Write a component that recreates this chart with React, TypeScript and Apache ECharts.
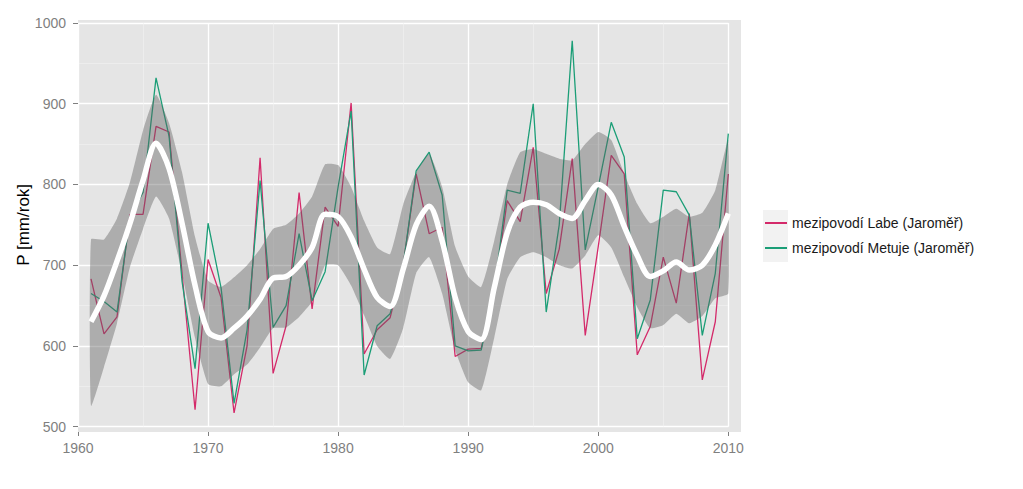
import React, { useEffect, useRef } from "react";
import * as echarts from "echarts";

const years: number[] = [
  1961, 1962, 1963, 1964, 1965, 1966, 1967, 1968, 1969, 1970,
  1971, 1972, 1973, 1974, 1975, 1976, 1977, 1978, 1979, 1980,
  1981, 1982, 1983, 1984, 1985, 1986, 1987, 1988, 1989, 1990,
  1991, 1992, 1993, 1994, 1995, 1996, 1997, 1998, 1999, 2000,
  2001, 2002, 2003, 2004, 2005, 2006, 2007, 2008, 2009, 2010,
];

const labe: number[] = [
  683, 615, 636, 763, 763, 872, 865, 690, 521, 707,
  660, 517, 600, 833, 566, 625, 790, 646, 772, 748,
  901, 590, 620, 635, 700, 813, 739, 747, 587, 596,
  597, 665, 780, 754, 846, 665, 720, 832, 613, 723,
  836, 813, 589, 624, 710, 653, 764, 558, 630, 813,
];

const metuje: number[] = [
  665, 655, 642, 760, 790, 932, 860, 680, 572, 752,
  672, 529, 620, 805, 623, 650, 739, 656, 692, 797,
  891, 564, 625, 640, 700, 817, 840, 787, 600, 594,
  595, 668, 793, 789, 900, 642, 750, 978, 719, 797,
  877, 834, 609, 657, 793, 791, 762, 613, 690, 863,
];

const smoothFit: number[] = [
  630, 662, 705, 752, 805, 851, 820, 752, 675, 618,
  610, 622, 637, 658, 684, 686, 700, 722, 763, 760,
  735, 695, 660, 649, 695, 750, 773, 730, 660, 618,
  608, 672, 740, 772, 778, 775, 764, 758, 780, 800,
  787, 748, 712, 686, 693, 704, 694, 700, 725, 764,
];

const bandUpper: number[] = [
  732, 732, 758, 803, 867, 911, 876, 815, 735, 681,
  673, 685, 700, 720, 745, 750, 764, 785, 825, 824,
  797, 755, 722, 714, 775, 815, 838, 797, 723, 686,
  673, 730, 800, 840, 844, 838, 832, 830, 850, 865,
  855, 813, 776, 752, 760, 770, 760, 765, 793, 855,
];

const bandLower: number[] = [
  526, 574, 628, 698, 745, 785, 758, 690, 610, 553,
  550, 565, 577, 598, 622, 623, 636, 655, 700, 700,
  675, 638, 600, 584, 622, 690, 710, 665, 595, 555,
  545, 610, 683, 710, 716, 710, 700, 696, 712, 737,
  722, 685, 648, 622, 626, 640, 628, 637, 659, 665,
];

const xTicks = { min: 1960, max: 2010, step: 10 };
const yTicks = { min: 500, max: 1000, step: 100 };

const NAME_LABE = "mezipovodí Labe (Jaroměř)";
const NAME_METUJE = "mezipovodí Metuje (Jaroměř)";
const Y_TITLE = "P [mm/rok]";

const FONT = "'Liberation Sans', Arial, Helvetica, sans-serif";

export default function App() {
  const ref = useRef<HTMLDivElement>(null);

  useEffect(() => {
    if (!ref.current) return;
    const chart = echarts.init(ref.current, undefined, { renderer: "svg" });

    const pairs = (vals: number[]) => years.map((y, i) => [y, vals[i]]);
    const bandData = years.map((y, i) => [y, bandLower[i], bandUpper[i]]);

    const renderBand = (params: any, api: any) => {
      if (params.dataIndexInside !== 0) return null;
      const n = params.dataInsideLength;
      const top: number[][] = [];
      const bottom: number[][] = [];
      for (let i = 0; i < n; i++) {
        const x = api.value(0, i);
        top.push(api.coord([x, api.value(2, i)]));
        bottom.push(api.coord([x, api.value(1, i)]));
      }
      const points = top.concat(bottom.reverse());
      return {
        type: "polygon",
        shape: { points, smooth: 0.15 },
        style: { fill: "rgba(95,95,95,0.42)", stroke: "none" },
        silent: true,
      };
    };

    const option: any = {
      animation: false,
      backgroundColor: "#ffffff",
      textStyle: { fontFamily: FONT },
      graphic: [
        {
          type: "rect",
          z: -10,
          shape: { x: 78, y: 20, width: 663, height: 412 },
          style: { fill: "#E5E5E5" },
          silent: true,
        },
        {
          type: "rect",
          z: -10,
          shape: { x: 763, y: 210, width: 25, height: 52 },
          style: { fill: "#F2F2F2" },
          silent: true,
        },
      ],
      grid: {
        left: 78,
        right: 1023 - 728.3,
        top: 23,
        bottom: 489 - 426.7,
        containLabel: false,
      },
      legend: {
        orient: "vertical",
        left: 765,
        top: 215,
        padding: 0,
        itemWidth: 22,
        itemHeight: 2,
        itemGap: 9,
        icon: "rect",
        data: [NAME_LABE, NAME_METUJE],
        textStyle: {
          fontFamily: FONT,
          fontSize: 14,
          color: "#1a1a1a",
          lineHeight: 16,
        },
      },
      xAxis: {
        type: "value",
        min: xTicks.min,
        max: xTicks.max,
        interval: xTicks.step,
        offset: 5.3,
        axisLine: { show: false },
        axisTick: { show: true, length: 4, lineStyle: { color: "#7F7F7F", width: 1 } },
        axisLabel: {
          color: "#7F7F7F",
          fontSize: 14,
          fontFamily: FONT,
          margin: 9,
          formatter: (v: number) => String(v),
        },
        splitLine: { show: true, lineStyle: { color: "#FFFFFF", width: 1.3 } },
        minorTick: { show: false, splitNumber: 2 },
        minorSplitLine: { show: true, lineStyle: { color: "#F2F2F2", width: 0.6 } },
      },
      yAxis: {
        type: "value",
        min: yTicks.min,
        max: yTicks.max,
        interval: yTicks.step,
        name: Y_TITLE,
        nameLocation: "middle",
        nameGap: 46,
        nameMoveOverlap: false,
        nameTextStyle: { fontFamily: FONT, fontSize: 17, color: "#000000" },
        axisLine: { show: false },
        axisTick: { show: true, length: 5, lineStyle: { color: "#7F7F7F", width: 1 } },
        axisLabel: {
          color: "#7F7F7F",
          fontSize: 14,
          fontFamily: FONT,
          margin: 12,
          formatter: (v: number) => String(v),
        },
        splitLine: { show: true, lineStyle: { color: "#FFFFFF", width: 1.3 } },
        minorTick: { show: false, splitNumber: 2 },
        minorSplitLine: { show: true, lineStyle: { color: "#F2F2F2", width: 0.6 } },
      },
      series: [
        {
          name: NAME_LABE,
          type: "line",
          data: pairs(labe),
          symbol: "none",
          color: "#D42A6A",
          lineStyle: { color: "#D42A6A", width: 1.3 },
          z: 2,
        },
        {
          name: NAME_METUJE,
          type: "line",
          data: pairs(metuje),
          symbol: "none",
          color: "#1B9E77",
          lineStyle: { color: "#1B9E77", width: 1.3 },
          z: 2,
        },
        {
          name: "band",
          type: "custom",
          data: bandData,
          encode: { x: 0, y: [1, 2] },
          renderItem: renderBand,
          clip: true,
          silent: true,
          z: 3,
        },
        {
          name: "smooth",
          type: "line",
          data: pairs(smoothFit),
          symbol: "none",
          smooth: 0.3,
          lineStyle: { color: "#FFFFFF", width: 5.5 },
          silent: true,
          z: 4,
        },
      ],
    };

    chart.setOption(option);
    return () => {
      chart.dispose();
    };
  }, []);

  return (
    <div
      ref={ref}
      style={{
        position: "fixed",
        left: 0,
        top: 0,
        width: 1023,
        height: 489,
        background: "#ffffff",
      }}
    />
  );
}
